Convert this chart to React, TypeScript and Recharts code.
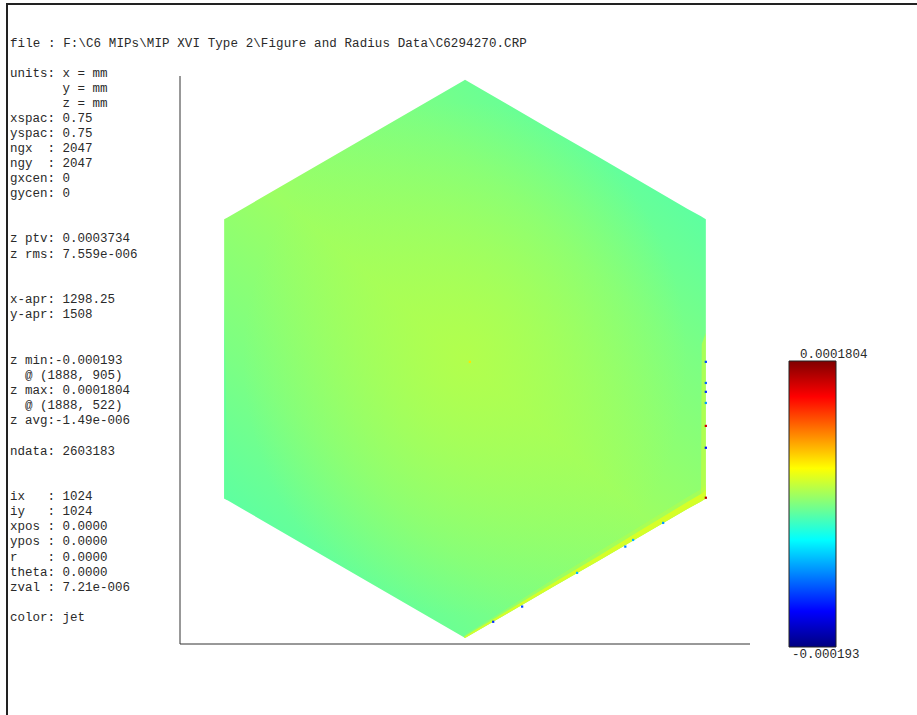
import { Area, Bar, BarChart, Cell, ComposedChart, Scatter, XAxis, YAxis, ZAxis } from 'recharts';

const Z_MIN = -0.000193;
const Z_MAX = 0.0001804;

const filePath = 'file : F:\\C6 MIPs\\MIP XVI Type 2\\Figure and Radius Data\\C6294270.CRP';

const infoLines: [string, number][] = [
  ['units: x = mm', 74],
  ['       y = mm', 89],
  ['       z = mm', 104],
  ['xspac: 0.75', 119],
  ['yspac: 0.75', 134],
  ['ngx  : 2047', 149],
  ['ngy  : 2047', 164.2],
  ['gxcen: 0', 179.3],
  ['gycen: 0', 194.4],
  ['z ptv: 0.0003734', 239.4],
  ['z rms: 7.559e-006', 254.6],
  ['x-apr: 1298.25', 300.4],
  ['y-apr: 1508', 315.4],
  ['z min:-0.000193', 360.8],
  ['  @ (1888, 905)', 376],
  ['z max: 0.0001804', 391],
  ['  @ (1888, 522)', 406.2],
  ['z avg:-1.49e-006', 421.3],
  ['ndata: 2603183', 451.8],
  ['ix   : 1024', 497.3],
  ['iy   : 1024', 512.3],
  ['xpos : 0.0000', 527.4],
  ['ypos : 0.0000', 542.4],
  ['r    : 0.0000', 557.5],
  ['theta: 0.0000', 572.6],
  ['zval : 7.21e-006', 587.8],
  ['color: jet', 618.4],
];

// mm across the part, columns shared by all of the filled regions
const xMm = [-649, -640, -3, 0, 120, 240, 360, 480, 600, 636, 638, 649];
const hexLow = [-377, -382, -752, -754, -684, -614, -545, -475, -405, -385, -384, -377];
const hexHigh = [377, 382, 752, 754, 684, 614, 545, 475, 405, 385, 384, 377];
const lowerEdgeTop = [-377, -382, -752, -749, -677, -604, -532, -459, -386, -365, -364, -352];
const lowerHaloTop = [-377, -382, -752, -746, -670, -594, -520, -447, -373, -352, -351, -338];
const rightEdgeHigh = [-377, -382, -752, -754, -684, -614, -545, -475, -386, -365, 40, 70];
const leftEdgeHigh = [170, -382, -752, -754, -684, -614, -545, -475, -405, -385, -384, -377];

const specksX = [649, 649, 649, 649, 649, 649, 649, 534, 453, 432, 302, 154, 76, 13];
const specksY = [-8, -65, -89, -119, -240, -181, -375, -443, -489, -507, -578, -669, -710, -8];
const specksZ = [
  -0.00012, -0.00011, -0.00013, -0.00009, -0.00014, 0.00015, 0.00016, -0.00009, -0.00008, -0.0001, -0.00008,
  -0.00012, -0.00013, 0.00005,
];

const surfaceRows = xMm.map((x, i) => ({
  x,
  hex: [hexLow[i], hexHigh[i]],
  lowerEdge: [hexLow[i], lowerEdgeTop[i]],
  lowerHalo: [hexLow[i], lowerHaloTop[i]],
  rightEdge: [Math.min(lowerEdgeTop[i], rightEdgeHigh[i]), rightEdgeHigh[i]],
  leftEdge: [hexLow[i], leftEdgeHigh[i]],
}));
const speckRows = specksX.map((x, i) => ({ x, y: specksY[i], z: specksZ[i] }));
const colorbarRows = [{ name: 'z', range: [Z_MIN, Z_MAX] }];

function jetColor(z: number) {
  const t = (z - Z_MIN) / (Z_MAX - Z_MIN);
  const channel = (c: number) => Math.round(255 * Math.max(0, Math.min(1, 1.5 - Math.abs(4 * t - c))));
  return `rgb(${channel(3)},${channel(2)},${channel(1)})`;
}

const textStyle: React.CSSProperties = {
  position: 'absolute',
  fontFamily: '"Liberation Mono", monospace',
  fontSize: 12.5,
  lineHeight: '14px',
  color: '#2a2a2a',
  whiteSpace: 'pre',
};

function Line({ text, y, x = 10, spacing = 0 }: { text: string; y: number; x?: number; spacing?: number }) {
  return <div style={{ ...textStyle, left: x, top: y - 7, letterSpacing: spacing }}>{text}</div>;
}

const areaProps = { type: 'linear', stroke: 'none', dot: false, activeDot: false, isAnimationActive: false } as const;

export default function App() {
  return (
    <div style={{ position: 'fixed', left: 0, top: 0, width: 917, height: 715, background: '#fff', overflow: 'hidden' }}>
      <div style={{ position: 'absolute', left: 6, top: 3, width: 911, height: 2, background: '#222' }} />
      <div style={{ position: 'absolute', left: 6, top: 3, width: 2, height: 712, background: '#222' }} />

      <Line text={filePath} y={43.5} spacing={0.1} />
      {infoLines.map(([text, y]) => (
        <Line key={text + y} text={text} y={y} />
      ))}

      <div style={{ position: 'absolute', left: 178, top: 74 }}>
        <ComposedChart width={574} height={572} data={surfaceRows} margin={{ top: 2, right: 2, bottom: 1, left: 1 }}>
          <defs>
            <linearGradient id="ridge" x1="0.82" y1="0.1" x2="0.2" y2="0.92">
              <stop offset="0" stopColor="#5CFFA2" />
              <stop offset="0.22" stopColor="#7CFF83" />
              <stop offset="0.5" stopColor="#9CFF63" />
              <stop offset="0.78" stopColor="#7CFF83" />
              <stop offset="1" stopColor="#5CFFA2" />
            </linearGradient>
            <radialGradient id="crown" cx="0.5" cy="0.5" r="0.46">
              <stop offset="0" stopColor="#B4FF4B" stopOpacity="0.9" />
              <stop offset="1" stopColor="#B4FF4B" stopOpacity="0" />
            </radialGradient>
          </defs>
          <XAxis type="number" dataKey="x" domain={[-768, 768]} tick={false} tickLine={false} height={1} axisLine={{ stroke: '#333' }} />
          <YAxis type="number" domain={[-770, 764]} tick={false} tickLine={false} width={1} axisLine={{ stroke: '#333' }} />
          <ZAxis range={[5, 5]} />
          <Area {...areaProps} dataKey="hex" fill="url(#ridge)" fillOpacity={1} />
          <Area {...areaProps} dataKey="hex" fill="url(#crown)" fillOpacity={1} />
          <Area {...areaProps} dataKey="leftEdge" fill="#62FF9C" fillOpacity={0.8} />
          <Area {...areaProps} dataKey="lowerHalo" fill="#C4FF3A" fillOpacity={0.35} />
          <Area {...areaProps} dataKey="lowerEdge" fill="#D8FF26" fillOpacity={0.95} />
          <Area {...areaProps} dataKey="rightEdge" fill="#D0FF30" fillOpacity={0.55} />
          <Scatter data={speckRows} dataKey="y" shape="square" isAnimationActive={false}>
            {speckRows.map((row) => (
              <Cell key={`${row.x}_${row.y}`} fill={jetColor(row.z)} />
            ))}
          </Scatter>
        </ComposedChart>
      </div>

      <div style={{ position: 'absolute', left: 788, top: 360 }}>
        <BarChart width={49} height={288} data={colorbarRows} margin={{ top: 1, right: 1, bottom: 1, left: 1 }} barCategoryGap={0}>
          <defs>
            <linearGradient id="jet" x1="0" y1="1" x2="0" y2="0">
              <stop offset="0" stopColor="#000080" />
              <stop offset="0.125" stopColor="#0000ff" />
              <stop offset="0.375" stopColor="#00ffff" />
              <stop offset="0.625" stopColor="#ffff00" />
              <stop offset="0.875" stopColor="#ff0000" />
              <stop offset="1" stopColor="#800000" />
            </linearGradient>
          </defs>
          <XAxis dataKey="name" hide />
          <YAxis type="number" domain={[Z_MIN, Z_MAX]} hide />
          <Bar dataKey="range" fill="url(#jet)" stroke="#222" strokeWidth={1} isAnimationActive={false} />
        </BarChart>
      </div>

      <Line text={Z_MAX.toString()} x={800} y={355} />
      <Line text={Z_MIN.toString()} x={792} y={655} />
    </div>
  );
}
